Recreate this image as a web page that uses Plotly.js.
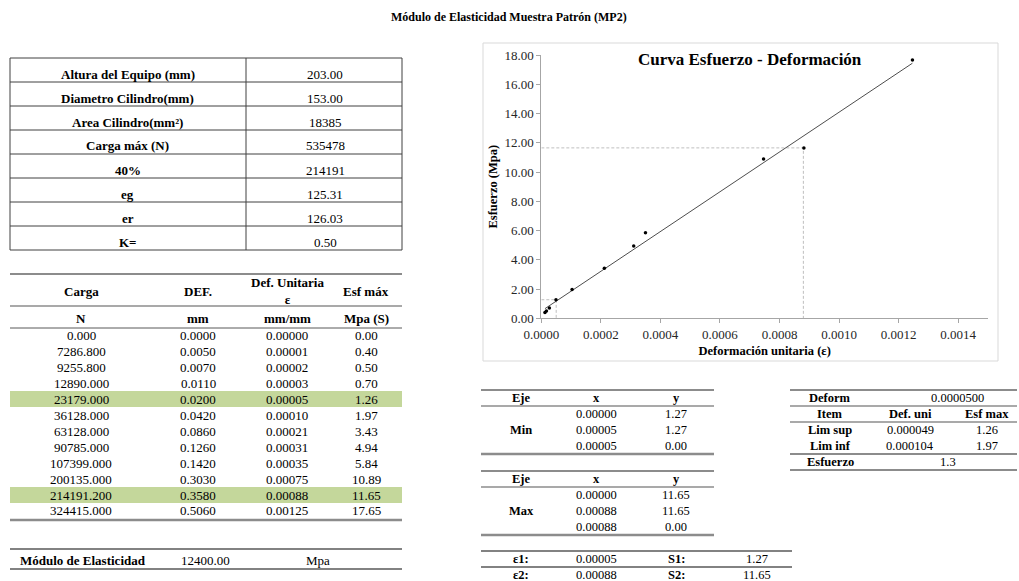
<!DOCTYPE html>
<html>
<head>
<meta charset="utf-8">
<script src="https://cdn.plot.ly/plotly-3.0.1.min.js"></script>
<style>html,body{margin:0;padding:0;background:#fff;}#chart{width:1019px;height:581px;}</style>
</head>
<body>
<div id="chart"></div>
<script>
// ---------------- data ----------------
const pageTitle = 'Módulo de Elasticidad Muestra Patrón (MP2)';
const chartTitle = 'Curva Esfuerzo - Deformación';
const xAxisTitle = 'Deformación unitaria (ε)';
const yAxisTitle = 'Esfuerzo (Mpa)';

const propLabels = ['Altura del Equipo (mm)', 'Diametro Cilindro(mm)', 'Area Cilindro(mm²)', 'Carga máx (N)', '40%', 'eg', 'er', 'K='];
const propValues = ['203.00', '153.00', '18385', '535478', '214191', '125.31', '126.03', '0.50'];

const headRow1 = ['Carga', 'DEF.', 'Def. Unitaria<br>ε', 'Esf máx'];
const headRow2 = ['N', 'mm', 'mm/mm', 'Mpa (S)'];
const carga = ['0.000', '7286.800', '9255.800', '12890.000', '23179.000', '36128.000', '63128.000', '90785.000', '107399.000', '200135.000', '214191.200', '324415.000'];
const defMm = ['0.0000', '0.0050', '0.0070', '0.0110', '0.0200', '0.0420', '0.0860', '0.1260', '0.1420', '0.3030', '0.3580', '0.5060'];
const defUnit = ['0.00000', '0.00001', '0.00002', '0.00003', '0.00005', '0.00010', '0.00021', '0.00031', '0.00035', '0.00075', '0.00088', '0.00125'];
const esfMax = ['0.00', '0.40', '0.50', '0.70', '1.26', '1.97', '3.43', '4.94', '5.84', '10.89', '11.65', '17.65'];
const highlightRows = [4, 10];

// plotted strain values (unrounded positions)
const strainPlot = [0, 0.0000123, 0.0000172, 0.0000271, 0.0000493, 0.0001034, 0.0002118, 0.0003103, 0.0003498, 0.0007463, 0.0008818, 0.0012463];
const trendX = [0.0000123, 0.0012463];
const trendY = [0.66, 17.44];

const moduloLabel = 'Módulo de Elasticidad';
const moduloValue = '12400.00';
const moduloUnit = 'Mpa';

const ejeHead = ['Eje', 'x', 'y'];
const minLabel = 'Min';
const minX = ['0.00000', '0.00005', '0.00005'];
const minY = ['1.27', '1.27', '0.00'];
const maxLabel = 'Max';
const maxX = ['0.00000', '0.00088', '0.00088'];
const maxY = ['11.65', '11.65', '0.00'];

const epsRows = [['ε1:', '0.00005', 'S1:', '1.27'], ['ε2:', '0.00088', 'S2:', '11.65']];

const deformLabel = 'Deform';
const deformValue = '0.0000500';
const limHead = ['Item', 'Def. uni', 'Esf max'];
const limRows = [['Lim sup', '0.000049', '1.26'], ['Lim inf', '0.000104', '1.97']];
const esfuerzoLabel = 'Esfuerzo';
const esfuerzoValue = '1.3';

// ---------------- helpers (pixel -> paper) ----------------
const W = 1019, H = 581;
const X = p => p / W;
const Y = p => 1 - p / H;
const SERIF = 'Liberation Serif, Times New Roman, serif';
const annotations = [];
const shapes = [];
function bold(t) { return t.split('<br>').map(s => '<b>' + s + '</b>').join('<br>'); }
function txt(text, x, y, o) {
  o = o || {};
  annotations.push({
    xref: 'paper', yref: 'paper', x: X(x), y: Y(y), text: o.bold ? bold(text) : text,
    showarrow: false, xanchor: o.anchor || 'center', yanchor: 'middle', align: 'center',
    font: {family: SERIF, size: o.size || 13, color: o.color || '#000'}
  });
}
function hline(x0, x1, y, color, width) {
  shapes.push({type: 'line', xref: 'paper', yref: 'paper', x0: X(x0), x1: X(x1), y0: Y(y), y1: Y(y),
    line: {color: color, width: width}});
}
function vline(x, y0, y1, color, width) {
  shapes.push({type: 'line', xref: 'paper', yref: 'paper', x0: X(x), x1: X(x), y0: Y(y0), y1: Y(y1),
    line: {color: color, width: width}});
}
function rect(x0, y0, x1, y1, fill, lineColor, lw) {
  shapes.push({type: 'rect', xref: 'paper', yref: 'paper', x0: X(x0), x1: X(x1), y0: Y(y0), y1: Y(y1),
    fillcolor: fill, line: {color: lineColor || 'rgba(0,0,0,0)', width: lw || 0}, layer: 'below'});
}

// ---------------- table 1 (properties) ----------------
const t1Top = 58, t1Row = 24, t1L = 10, t1R = 402, t1Mid = 246;
rect(t1L, t1Top, t1R, t1Top + t1Row * propLabels.length, 'rgba(0,0,0,0)', '#404040', 1);
vline(t1Mid, t1Top, t1Top + t1Row * propLabels.length, '#404040', 1);
propLabels.forEach((lab, i) => {
  if (i > 0) hline(t1L, t1R, t1Top + t1Row * i, '#404040', 1);
  const cy = t1Top + t1Row * i + 16;
  txt(lab, 128, cy, {bold: true});
  txt(propValues[i], 325, cy);
});

// ---------------- table 2 (data) ----------------
const colC = [81, 198, 287, 366];
const dTop = 327, dRow = 16;
highlightRows.forEach(r => rect(t1L, dTop + dRow * r, t1R, dTop + dRow * (r + 1), '#c4d79b'));
hline(t1L, t1R, 274, '#8c8c8c', 2);
hline(t1L, t1R, 306, '#8c8c8c', 1.5);
hline(t1L, t1R, 328, '#595959', 1);
hline(t1L, t1R, 520, '#8c8c8c', 2.5);
headRow1.forEach((h, j) => txt(h, colC[j], 291, {bold: true}));
headRow2.forEach((h, j) => txt(h, colC[j], 318, {bold: true}));
carga.forEach((c, i) => {
  const cy = dTop + dRow * i + 8;
  txt(c, colC[0], cy);
  txt(defMm[i], colC[1], cy);
  txt(defUnit[i], colC[2], cy);
  txt(esfMax[i], colC[3], cy);
});
hline(t1L, t1R, 549, '#595959', 1.5);
hline(t1L, t1R, 569, '#595959', 1.5);
txt(moduloLabel, 18, 560, {bold: true, anchor: 'left'});
txt(moduloValue, 205, 560);
txt(moduloUnit, 318, 560);

// ---------------- middle tables ----------------
const mC = [521, 596, 676, 757];
function ejeTable(top, label, xs, ys) {
  hline(481, 714, top, '#8c8c8c', 2);
  ejeHead.forEach((h, j) => txt(h, mC[j], top + 8, {bold: true, size: 12.5}));
  hline(481, 714, top + 16, '#8c8c8c', 1.5);
  xs.forEach((v, i) => {
    txt(v, mC[1], top + 24 + 16 * i, {size: 12.5});
    txt(ys[i], mC[2], top + 24 + 16 * i, {size: 12.5});
  });
  txt(label, mC[0], top + 40, {bold: true, size: 12.5});
  hline(481, 714, top + 64, '#8c8c8c', 2.5);
}
ejeTable(390, minLabel, minX, minY);
ejeTable(471, maxLabel, maxX, maxY);
hline(481, 792, 551, '#595959', 1.5);
hline(481, 792, 567, '#595959', 1.5);
epsRows.forEach((r, i) => {
  const cy = 559 + 16 * i;
  txt(r[0], mC[0], cy, {bold: true, size: 12.5});
  txt(r[1], mC[1], cy, {size: 12.5});
  txt(r[2], mC[2], cy, {bold: true, size: 12.5});
  txt(r[3], mC[3], cy, {size: 12.5});
});

// ---------------- right table ----------------
const rC = [830, 910, 987];
const rL = 790, rR = 1017;
hline(rL, rR, 390, '#8c8c8c', 2);
txt(deformLabel, rC[0], 398, {bold: true, size: 12.5});
txt(deformValue, 957, 398, {size: 12.5});
hline(rL, rR, 406, '#8c8c8c', 1.5);
limHead.forEach((h, j) => txt(h, rC[j], 414, {bold: true, size: 12.5}));
hline(rL, rR, 422, '#8c8c8c', 1.5);
limRows.forEach((r, i) => {
  const cy = 430 + 16 * i;
  txt(r[0], rC[0], cy, {bold: true, size: 12.5});
  txt(r[1], rC[1], cy, {size: 12.5});
  txt(r[2], rC[2], cy, {size: 12.5});
});
hline(rL, rR, 454, '#8c8c8c', 2);
txt(esfuerzoLabel, rC[0], 462, {bold: true, size: 12.5});
txt(esfuerzoValue, 948, 462, {size: 12.5});
hline(rL, rR, 470, '#8c8c8c', 2);

// ---------------- chart frame & title ----------------
rect(483, 43, 998, 361, 'rgba(0,0,0,0)', '#d9d9d9', 1);
txt(chartTitle, 750, 60, {bold: true, size: 17});
txt(pageTitle, 509, 17, {bold: true, size: 12});

// ---------------- traces ----------------
const stressNum = esfMax.map(Number);
const guide = {color: '#bfbfbf', width: 1, dash: '3px,2px'};
const traces = [
  {x: minX.map(Number), y: minY.map(Number), type: 'scatter', mode: 'lines',
   line: guide, hoverinfo: 'skip', showlegend: false},
  {x: maxX.map(Number), y: maxY.map(Number), type: 'scatter', mode: 'lines',
   line: guide, hoverinfo: 'skip', showlegend: false},
  {x: trendX, y: trendY, type: 'scatter', mode: 'lines',
   line: {color: '#4d4d4d', width: 1}, showlegend: false},
  {x: strainPlot.slice(1), y: stressNum.slice(1), type: 'scatter', mode: 'markers',
   marker: {color: '#000', size: 3.5}, showlegend: false}
];

const layout = {
  width: W, height: H,
  margin: {l: 0, r: 0, t: 0, b: 0, pad: 0},
  paper_bgcolor: '#fff', plot_bgcolor: 'rgba(0,0,0,0)',
  showlegend: false,
  font: {family: SERIF, color: '#000'},
  xaxis: {
    domain: [X(541.3), X(988)], range: [0, 0.0015], dtick: 0.0002, tick0: 0, tickformat: '.4f',
    showline: true, linecolor: '#a6a6a6', linewidth: 1, ticks: 'outside', ticklen: 4, tickcolor: '#a6a6a6',
    showgrid: false, zeroline: false, automargin: false,
    tickfont: {family: SERIF, size: 13, color: '#262626'},
    title: {text: '<b>' + xAxisTitle + '</b>', font: {family: SERIF, size: 12.5, color: '#000'}, standoff: 5}
  },
  yaxis: {
    domain: [Y(318.3), Y(55)], range: [0, 18], dtick: 2, tick0: 0, tickformat: '.2f',
    showline: true, linecolor: '#a6a6a6', linewidth: 1, ticks: 'outside', ticklen: 4, tickcolor: '#a6a6a6',
    showgrid: false, zeroline: false, automargin: false,
    tickfont: {family: SERIF, size: 13, color: '#262626'},
    title: {text: '<b>' + yAxisTitle + '</b>', font: {family: SERIF, size: 12.5, color: '#000'}, standoff: 4}
  },
  shapes: shapes,
  annotations: annotations
};

Plotly.newPlot('chart', traces, layout, {displayModeBar: false, staticPlot: true});
</script>
</body>
</html>
